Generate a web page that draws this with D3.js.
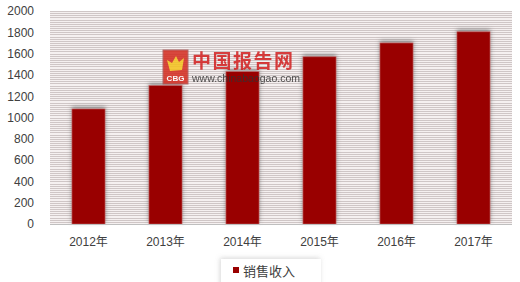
<!DOCTYPE html>
<html>
<head>
<meta charset="utf-8">
<script src="https://cdn.jsdelivr.net/npm/d3@7"></script>
<style>
  body { margin: 0; background: #fff; }
  svg { display: block; }
</style>
</head>
<body>
<div id="chart"></div>
<script>
// 数据
const years = ["2012年", "2013年", "2014年", "2015年", "2016年", "2017年"];
const sales = [1080, 1300, 1430, 1570, 1700, 1805];
const yTicks = [0, 200, 400, 600, 800, 1000, 1200, 1400, 1600, 1800, 2000];
const seriesName = "销售收入";

const width = 520, height = 282;
const margin = { top: 11, right: 8, bottom: 58, left: 50 };

const svg = d3.select("#chart").append("svg")
    .attr("width", width)
    .attr("height", height);

const defs = svg.append("defs");
defs.append("filter").attr("id", "barShadow")
    .attr("x", "-30%").attr("y", "-10%").attr("width", "160%").attr("height", "120%")
    .append("feDropShadow")
    .attr("dx", 0).attr("dy", -2).attr("stdDeviation", 2)
    .attr("flood-color", "#555").attr("flood-opacity", 0.6);
defs.append("filter").attr("id", "legendShadow")
    .attr("x", "-20%").attr("y", "-40%").attr("width", "140%").attr("height", "180%")
    .append("feDropShadow")
    .attr("dx", -1).attr("dy", -1).attr("stdDeviation", 2.5)
    .attr("flood-color", "#888").attr("flood-opacity", 0.35);

const x = d3.scaleBand()
    .domain(years)
    .range([margin.left, width - margin.right])
    .paddingInner(0.57)
    .paddingOuter(0.285);

const y = d3.scaleLinear()
    .domain([0, 2000])
    .range([height - margin.bottom, margin.top]);

// 背景条纹
svg.append("rect")
    .attr("x", margin.left).attr("y", margin.top)
    .attr("width", width - margin.left - margin.right)
    .attr("height", y(0) - margin.top)
    .attr("fill", "#f5f0f0");

svg.append("g")
    .selectAll("line")
    .data(d3.range(0, 2001, 20))
    .join("line")
    .attr("x1", margin.left).attr("x2", width - margin.right)
    .attr("y1", d => Math.round(y(d)) + 0.5).attr("y2", d => Math.round(y(d)) + 0.5)
    .attr("stroke", "#cfc6c6")
    .attr("stroke-width", 1);

// 柱子
svg.append("g")
    .selectAll("rect")
    .data(sales)
    .join("rect")
    .attr("x", (d, i) => x(years[i]))
    .attr("y", d => y(d))
    .attr("width", x.bandwidth())
    .attr("height", d => y(0) - y(d))
    .attr("fill", "#990000")
    .attr("stroke", "#c46a6a")
    .attr("stroke-width", 0.6)
    .attr("filter", "url(#barShadow)");

// x 轴线
svg.append("line")
    .attr("x1", margin.left).attr("x2", width - margin.right)
    .attr("y1", y(0) + 0.5).attr("y2", y(0) + 0.5)
    .attr("stroke", "#bfbfbf");

// y 轴
const yAxis = svg.append("g")
    .attr("transform", `translate(${margin.left - 16},0)`)
    .call(d3.axisLeft(y).tickValues(yTicks).tickFormat(d3.format("d")).tickSize(0).tickPadding(0));
yAxis.select(".domain").remove();
yAxis.selectAll("text")
    .attr("font-family", "'Liberation Sans', Arial, sans-serif")
    .attr("font-size", 12)
    .attr("fill", "#404040");

// x 轴
const xAxis = svg.append("g")
    .attr("transform", `translate(0,${y(0)})`)
    .call(d3.axisBottom(x).tickSize(0).tickPadding(13));
xAxis.select(".domain").remove();
xAxis.selectAll("text")
    .attr("font-family", "'Liberation Sans', 'Noto Sans CJK SC', sans-serif")
    .attr("font-size", 12)
    .attr("fill", "#404040");

// 水印
const wm = svg.append("g").attr("opacity", 0.85);
wm.append("rect")
    .attr("x", 163).attr("y", 50).attr("width", 25).attr("height", 34)
    .attr("fill", "#d42a1e").attr("stroke", "#a55").attr("stroke-width", 1);
wm.append("path")
    .attr("d", "M167,60 L172,63 L176,56 L179,62 L184,58 L182,70 L170,71 Z")
    .attr("fill", "#f4c21b");
wm.append("text")
    .attr("x", 175.5).attr("y", 81)
    .attr("text-anchor", "middle")
    .attr("font-family", "'Liberation Sans', Arial, sans-serif")
    .attr("font-size", 8).attr("font-weight", "bold")
    .attr("fill", "#fff")
    .text("CBG");
wm.append("text")
    .attr("x", 192).attr("y", 68)
    .attr("font-family", "'Noto Sans CJK SC', sans-serif")
    .attr("font-size", 19).attr("font-weight", "bold")
    .attr("letter-spacing", 1.5)
    .attr("fill", "#d21f1f")
    .text("中国报告网");
wm.append("text")
    .attr("x", 192).attr("y", 82)
    .attr("font-family", "'Liberation Sans', Arial, sans-serif")
    .attr("font-size", 10.5)
    .attr("fill", "#333")
    .text("www.chinabaogao.com");

// 图例
const legend = svg.append("g");
legend.append("rect")
    .attr("x", 221).attr("y", 259).attr("width", 100).attr("height", 30)
    .attr("fill", "#fff")
    .attr("filter", "url(#legendShadow)");
legend.append("rect")
    .attr("x", 233).attr("y", 267).attr("width", 6).attr("height", 6)
    .attr("fill", "#990000");
legend.append("text")
    .attr("x", 243).attr("y", 276)
    .attr("font-family", "'Noto Sans CJK SC', sans-serif")
    .attr("font-size", 13)
    .attr("fill", "#404040")
    .text(seriesName);
</script>
</body>
</html>
